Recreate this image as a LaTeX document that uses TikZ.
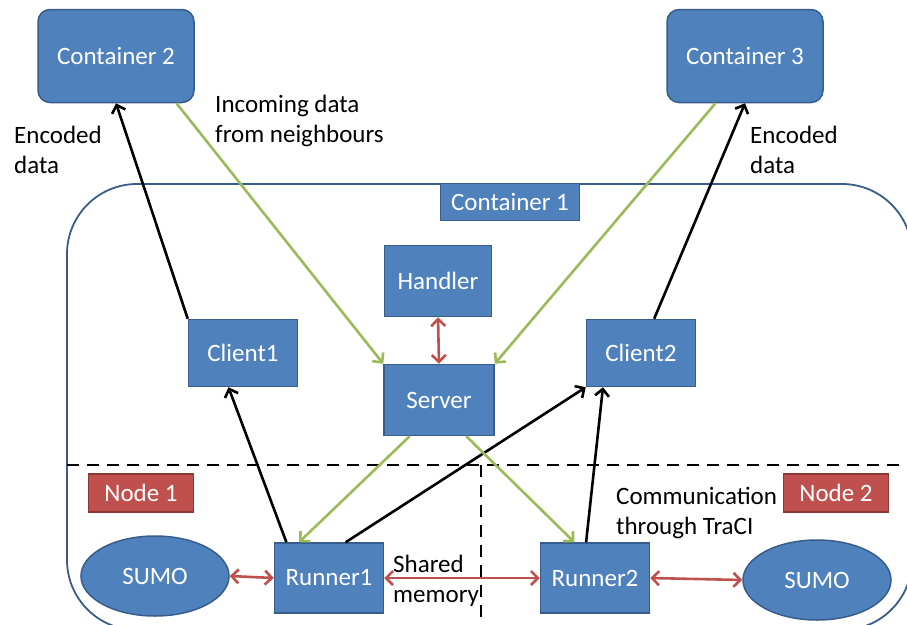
\documentclass[tikz,border=0pt]{standalone}
\usepackage{fontspec}
\setmainfont{Carlito}
\usepackage{xcolor}
\usetikzlibrary{arrows.meta,shapes.geometric}

\definecolor{boxblue}{HTML}{4F81BD}
\definecolor{edgeblue}{HTML}{385D8A}
\definecolor{boxred}{HTML}{C0504D}
\definecolor{edgered}{HTML}{8C3836}
\definecolor{linkgreen}{HTML}{9BBB59}

\begin{document}
\begin{tikzpicture}[
  x=1pt, y=-1pt,
  >={Straight Barb[length=7pt,width=14pt]},
  font=\fontsize{25}{30}\selectfont,
  every node/.style={align=left},
  unit/.style={rectangle, draw=edgeblue, line width=1.5pt, fill=boxblue, text=white, minimum width=109pt, minimum height=70pt, inner sep=0pt},
  cont/.style={unit, rounded corners=12pt, minimum width=156pt, minimum height=93pt},
  tag/.style={unit, minimum width=139pt, minimum height=37pt},
  machine/.style={rectangle, draw=edgered, line width=1.5pt, fill=boxred, text=white, minimum width=105pt, minimum height=38pt, inner sep=0pt},
  sim/.style={ellipse, draw=edgeblue, line width=1.5pt, fill=boxblue, text=white, minimum width=148pt, minimum height=80pt, inner sep=0pt},
  note/.style={inner sep=0pt, anchor=west},
  data/.style={->, black, line width=2.6pt},
  feed/.style={->, linkgreen, line width=2.6pt},
  link/.style={<->, boxred, line width=2.6pt},
  split/.style={black, line width=2.6pt, dash pattern=on 12pt off 8pt},
]
\useasboundingbox (0,0) rectangle (907,624);
\clip (0,0) rectangle (907,624);

% container 1 outline and node borders
\draw[edgeblue, line width=1.8pt, rounded corners=70pt] (67,184) rectangle (912,630);
\draw[split] (67,465) -- (907,465);
\draw[split] (481,465) -- (481,624);

% containers
\node[cont] (cont2) at (116,56) {Container 2};
\node[cont] (cont3) at (745,56) {Container 3};
\node[tag] (cont1) at (510,202) {Container 1};

% processes
\node[unit, minimum width=107pt, minimum height=71pt] (handler) at (438,281) {Handler};
\node[unit, minimum height=67pt] (client1) at (243,353) {Client1};
\node[unit, minimum width=110pt, minimum height=71pt] (server) at (439,400) {Server};
\node[unit, minimum height=67pt] (client2) at (641,353) {Client2};
\node[unit] (runner1) at (329,578) {Runner1};
\node[unit] (runner2) at (595,578) {Runner2};

% nodes and simulators
\node[machine] (node1) at (141,493) {Node 1};
\node[machine] (node2) at (836,493) {Node 2};
\node[sim] (sumo1) at (155,576) {SUMO};
\node[sim] (sumo2) at (817,580) {SUMO};

% labels
\node[note] (enc1) at (14,150) {Encoded\\data};
\node[note] (enc2) at (750,150) {Encoded\\data};
\node[note] (incoming) at (215,121) {Incoming data\\from neighbours};
\node[note] (traci) at (616,513) {Communication\\through TraCI};
\node[note] (shm) at (393,581) {Shared\\memory};

% connectors
\draw[data] (client1.north west) -- (cont2.south);
\draw[data] (client2.69) -- (cont3.south);
\draw[feed] (cont2.-38) -- (server.north west);
\draw[feed] (cont3.-122) -- (server.north east);
\draw[link] (handler.south) -- (server.north);
\draw[data] (runner1.140) -- (client1.-113);
\draw[data] (runner1.65) -- (client2.south west);
\draw[data] (runner2.104) -- (client2.-138);
\draw[feed] (server.-129) -- (runner1.130);
\draw[feed] (server.-53) -- (runner2.120);
\draw[link] (sumo1.east) -- (runner1.west);
\draw[link] (runner1.east) -- (runner2.west);
\draw[link] (runner2.east) -- (sumo2.west);
\end{tikzpicture}
\end{document}
